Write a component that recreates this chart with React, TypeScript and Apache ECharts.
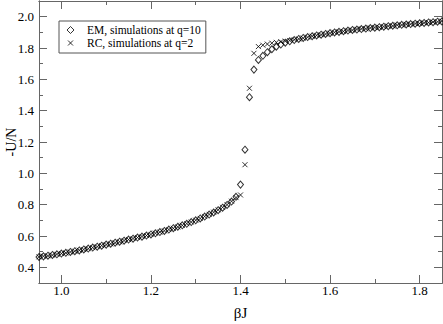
import React, { useEffect, useRef } from "react";
import * as echarts from "echarts";

const FONT = "'Liberation Serif', 'DejaVu Serif', serif";

const betaLower = [
  0.95, 0.96, 0.97, 0.98, 0.99, 1.0, 1.01, 1.02, 1.03, 1.04, 1.05, 1.06, 1.07, 1.08, 1.09,
  1.1, 1.11, 1.12, 1.13, 1.14, 1.15, 1.16, 1.17, 1.18, 1.19, 1.2, 1.21, 1.22, 1.23, 1.24,
  1.25, 1.26, 1.27, 1.28, 1.29, 1.3, 1.31, 1.32, 1.33, 1.34, 1.35, 1.36, 1.37, 1.38, 1.39,
];
const betaTransition = [1.4, 1.41, 1.42, 1.43];
const betaUpper = [
  1.44, 1.45, 1.46, 1.47, 1.48, 1.49, 1.5, 1.51, 1.52, 1.53, 1.54, 1.55, 1.56, 1.57,
  1.58, 1.59, 1.6, 1.61, 1.62, 1.63, 1.64, 1.65, 1.66, 1.67, 1.68, 1.69, 1.7, 1.71,
  1.72, 1.73, 1.74, 1.75, 1.76, 1.77, 1.78, 1.79, 1.8, 1.81, 1.82, 1.83, 1.84, 1.85,
];

const emLower = [
  0.466, 0.47, 0.474, 0.479, 0.483, 0.488, 0.493, 0.498, 0.503, 0.508, 0.514, 0.52, 0.526, 0.532, 0.538,
  0.545, 0.551, 0.557, 0.564, 0.57, 0.577, 0.583, 0.59, 0.596, 0.603, 0.61, 0.617, 0.625, 0.632, 0.641,
  0.65, 0.659, 0.668, 0.678, 0.689, 0.7, 0.712, 0.724, 0.737, 0.75, 0.765, 0.781, 0.798, 0.82, 0.85,
];
const rcLower = [
  0.467, 0.471, 0.474, 0.478, 0.483, 0.488, 0.492, 0.498, 0.503, 0.509, 0.514, 0.519, 0.526, 0.532, 0.539,
  0.545, 0.55, 0.557, 0.563, 0.571, 0.577, 0.584, 0.59, 0.597, 0.603, 0.61, 0.618, 0.625, 0.633, 0.641,
  0.649, 0.658, 0.668, 0.679, 0.689, 0.701, 0.712, 0.725, 0.738, 0.752, 0.767, 0.783, 0.8, 0.822, 0.845,
];
const emTransition = [0.928, 1.151, 1.486, 1.662];
const rcTransition = [0.862, 1.055, 1.543, 1.766];
const emUpper = [
  1.724, 1.75, 1.773, 1.792, 1.808, 1.822, 1.834, 1.843, 1.851, 1.858, 1.864, 1.87, 1.875, 1.88,
  1.885, 1.89, 1.895, 1.899, 1.903, 1.907, 1.911, 1.915, 1.918, 1.921, 1.924, 1.927, 1.93, 1.933,
  1.936, 1.939, 1.942, 1.945, 1.948, 1.95, 1.953, 1.955, 1.958, 1.96, 1.963, 1.965, 1.968, 1.97,
];
const rcUpper = [
  1.809, 1.818, 1.825, 1.831, 1.836, 1.84, 1.844, 1.848, 1.853, 1.858, 1.863, 1.869, 1.875, 1.881,
  1.885, 1.889, 1.894, 1.9, 1.904, 1.906, 1.912, 1.914, 1.919, 1.922, 1.923, 1.928, 1.931, 1.932,
  1.937, 1.94, 1.941, 1.946, 1.947, 1.951, 1.952, 1.956, 1.957, 1.961, 1.962, 1.966, 1.967, 1.971,
];

const xMajorTicks = [1.0, 1.2, 1.4, 1.6, 1.8];
const xMinorTicks = [1.1, 1.3, 1.5, 1.7];
const yMajorTicks = [0.4, 0.6, 0.8, 1.0, 1.2, 1.4, 1.6, 1.8, 2.0];
const yMinorTicks = [0.5, 0.7, 0.9, 1.1, 1.3, 1.5, 1.7, 1.9];

const emName = "EM, simulations at q=10";
const rcName = "RC, simulations at q=2";

const X_MIN = 0.95;
const X_MAX = 1.85;
const Y_MIN = 0.3;
const Y_MAX = 2.1;

function pairs(xs: number[], ys: number[]) {
  return xs.map((x, i) => [x, ys[i]]);
}

const AXIS_COLOR = "#666";

function makeAxis(kind: "x" | "y", position: string, ticks: number[], len: number, labels: boolean) {
  const base: any = {
    type: "value",
    min: kind === "x" ? X_MIN : Y_MIN,
    max: kind === "x" ? X_MAX : Y_MAX,
    position,
    axisLine: { show: true, onZero: false, lineStyle: { color: AXIS_COLOR, width: 1 } },
    axisTick: { show: true, inside: true, length: len, customValues: ticks, lineStyle: { color: AXIS_COLOR, width: 1 } },
    axisLabel: labels
      ? {
          show: true,
          customValues: ticks,
          formatter: (v: number) => v.toFixed(1),
          fontFamily: FONT,
          fontSize: 13,
          color: "#000",
          margin: kind === "x" ? 1 : 5,
        }
      : { show: false },
    splitLine: { show: false },
    minorTick: { show: false },
  };
  return base;
}

export default function App() {
  const ref = useRef<HTMLDivElement>(null);
  useEffect(() => {
    if (!ref.current) return;
    const chart = echarts.init(ref.current, undefined, { renderer: "svg" });
    const xMain = makeAxis("x", "bottom", xMajorTicks, 8, true);
    xMain.name = "βJ";
    xMain.nameLocation = "middle";
    xMain.nameGap = 22;
    xMain.nameMoveOverlap = false;
    xMain.nameTextStyle = { fontFamily: FONT, fontSize: 15, color: "#000" };
    const yMain = makeAxis("y", "left", yMajorTicks, 8, true);
    yMain.name = "-U/N";
    yMain.nameLocation = "middle";
    yMain.nameGap = 21;
    yMain.nameMoveOverlap = false;
    yMain.nameTextStyle = { fontFamily: FONT, fontSize: 14, color: "#000" };

    const hollow = { color: "rgba(0,0,0,0)", borderColor: "#000", borderWidth: 1 };
    const crossPath = "path://M0,0L10,10M10,0L0,10";

    chart.setOption({
      animation: false,
      backgroundColor: "#fff",
      grid: { left: 39, right: 1, top: 1, bottom: 41, containLabel: false, outerBoundsMode: "none" },
      xAxis: [
        xMain,
        makeAxis("x", "top", xMajorTicks, 8, false),
        makeAxis("x", "bottom", xMinorTicks, 4, false),
        makeAxis("x", "top", xMinorTicks, 4, false),
      ],
      yAxis: [
        yMain,
        makeAxis("y", "right", yMajorTicks, 8, false),
        makeAxis("y", "left", yMinorTicks, 4, false),
        makeAxis("y", "right", yMinorTicks, 4, false),
      ],
      legend: {
        show: true,
        orient: "vertical",
        left: 59,
        top: 21,
        padding: [2.5, 5, 3.5, 7.5],
        itemGap: 0,
        itemWidth: 15,
        itemHeight: 7,
        borderColor: "#555",
        borderWidth: 1,
        backgroundColor: "#fff",
        textStyle: { fontFamily: FONT, fontSize: 11.5, color: "#000", lineHeight: 13 },
        data: [
          { name: emName, icon: "path://M3.5,0L7,3.5L3.5,7L0,3.5Z M15,0", itemStyle: hollow },
          { name: rcName, icon: "path://M1,1L6,6M6,1L1,6M0,0M15,7", itemStyle: hollow },
        ],
      },
      series: [
        {
          name: emName,
          type: "scatter",
          xAxisIndex: 0,
          yAxisIndex: 0,
          symbol: "diamond",
          symbolSize: [6, 7],
          itemStyle: hollow,
          data: [
            ...pairs(betaLower, emLower),
            ...pairs(betaTransition, emTransition),
            ...pairs(betaUpper, emUpper),
          ],
        },
        {
          name: rcName,
          type: "scatter",
          xAxisIndex: 0,
          yAxisIndex: 0,
          symbol: crossPath,
          symbolSize: 5,
          itemStyle: hollow,
          data: [
            ...pairs(betaLower, rcLower),
            ...pairs(betaTransition, rcTransition),
            ...pairs(betaUpper, rcUpper),
          ],
        },
      ],
    });
    return () => chart.dispose();
  }, []);
  return (
    <div
      ref={ref}
      style={{ position: "fixed", left: 0, top: 0, width: 443, height: 324, background: "#fff" }}
    />
  );
}
